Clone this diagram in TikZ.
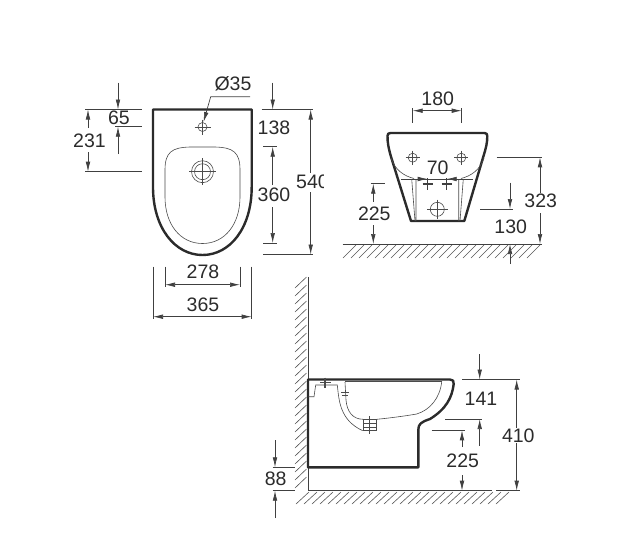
\documentclass[tikz,border=0pt]{standalone}
\usepackage{fontspec}
\setmainfont{Liberation Sans}
\usepackage{xcolor}
\usetikzlibrary{arrows.meta,calc}
\definecolor{inkdark}{HTML}{2B2B2B}

\begin{document}
\begin{tikzpicture}[x=1pt,y=-1pt,
    outline/.style={line width=2.4pt,inkdark,line join=round},
    thin part/.style={line width=0.6pt,inkdark!85},
    dim line/.style={line width=0.7pt,inkdark!90},
    dim arrow/.style={dim line,-{Latex[length=10pt,width=4.6pt]}},
    dim both/.style={dim line,{Latex[length=10pt,width=4.6pt]}-{Latex[length=10pt,width=4.6pt]}},
    dim label/.style={text=inkdark,font=\fontsize{19.5}{19.5}\selectfont,inner sep=0pt},
    hatch line/.style={line width=0.6pt,inkdark!80}]
  \useasboundingbox (0,0) rectangle (627,539);

  % top view
  \draw[outline] (153,187) -- (153,109.5) -- (251.7,109.5) -- (251.7,187)
    .. controls (251.7,228) and (230,255) .. (202.5,255)
    .. controls (175,255) and (153,228) .. (153,187);
  \draw[thin part] (165,170) .. controls (165,152) and (172,147.5) .. (190,147)
    -- (215,147) .. controls (233,147.5) and (240,152) .. (240,170)
    -- (240,197) .. controls (240,224) and (225,243.5) .. (202.5,243.5)
    .. controls (180,243.5) and (165,224) .. (165,197) -- cycle;
  \draw[thin part] (202.5,171.7) circle[radius=11pt] circle[radius=8pt];
  \draw[thin part] (189,171.7) -- (216,171.7) (202.5,158) -- (202.5,185);
  \draw[thin part] (202.5,127) circle[radius=4.5pt];
  \draw[thin part] (194.5,127) -- (210.5,127) (202.5,119.5) -- (202.5,134.5);

  % top view, dimensions on the left
  \draw[dim line] (85,109.5) -- (141.7,109.5);
  \draw[dim line] (115,126.7) -- (141.7,126.7);
  \draw[dim line] (85,171.7) -- (141.7,171.7);
  \draw[dim arrow] (118,82.7) -- (118,109.5);
  \draw[dim arrow] (118,154) -- (118,126.7);
  \draw[dim arrow] (88,128) -- (88,109.5);
  \draw[dim arrow] (88,152) -- (88,171.7);
  \node[dim label] (d65) at (119,118) {65};
  \node[dim label] (d231) at (89.5,140.7) {231};

  % hole leader
  \node[dim label] (dhole) at (233,84) {Ø35};
  \draw[dim arrow] (250,96.7) -- (210.7,96.7) -- (203.5,122);

  % top view, dimensions on the right
  \draw[dim line] (261.7,109.5) -- (313,109.5);
  \draw[dim line] (263,146.7) -- (276.7,146.7);
  \draw[dim line] (263,243) -- (276.7,243);
  \draw[dim line] (263,254.5) -- (313,254.5);
  \draw[dim arrow] (272.7,82.7) -- (272.7,109.5);
  \draw[dim arrow] (272.7,185) -- (272.7,146.7);
  \draw[dim arrow] (272.7,207) -- (272.7,243);
  \draw[dim arrow] (310.7,173) -- (310.7,109.5);
  \draw[dim arrow] (310.7,192) -- (310.7,254.5);
  \node[dim label] (d138) at (274,128) {138};
  \node[dim label] (d360) at (274,195) {360};
  \begin{scope}
    \clip (285,165) rectangle (323.5,200);
    \node[dim label,anchor=west] (d540) at (296,181.7) {540};
  \end{scope}

  % top view, dimensions below
  \draw[dim line] (165,266.7) -- (165,287) (240,266.7) -- (240,287);
  \draw[dim line] (153,266.7) -- (153,319) (251.7,266.7) -- (251.7,319);
  \draw[dim both] (165,284.7) -- (240,284.7);
  \draw[dim both] (153,316.7) -- (251.7,316.7);
  \node[dim label] (d278) at (203,272) {278};
  \node[dim label] (d365) at (203,305) {365};

  % front view
  \draw[outline] (411,221) -- (391,156.7) .. controls (388.5,148) and (387.5,143) .. (387.5,136)
    .. controls (387.5,134) and (388.5,133) .. (390.5,133) -- (484.5,133)
    .. controls (486.5,133) and (487.3,134) .. (487.3,136)
    .. controls (487.3,143) and (486,148) .. (483.3,156.7) -- (464.3,221) -- cycle;
  \draw[thin part] (391,158) .. controls (395,170) and (404,176) .. (414,178.5);
  \draw[thin part] (484,158) .. controls (480,170) and (471,176) .. (461,178.5);
  \draw[dim line] (401,179) -- (473.3,179);
  \draw[thin part] (411.7,179) -- (415,221) (416,179) -- (416,221);
  \draw[thin part] (463.3,179) -- (460,221) (458.7,179) -- (458.7,221);
  \foreach \hx in {412.7,461.3} {
    \draw[thin part] (\hx,157.7) circle[radius=4.5pt];
    \draw[thin part] (\hx-7,157.7) -- (\hx+7,157.7) (\hx,150.5) -- (\hx,165);
  }
  \foreach \hx in {427.7,446.7}
    \draw[dim line,line width=1.2pt] (\hx-5,184) -- (\hx+5,184) (\hx,178) -- (\hx,190);
  \draw[thin part] (437.3,209.3) circle[radius=7pt];
  \draw[thin part] (427,209.3) -- (447.5,209.3) (437.3,199.5) -- (437.3,219);

  % front view, dimensions
  \draw[dim line] (412.7,108) -- (412.7,122.7) (461.7,108) -- (461.7,122.7);
  \draw[dim both] (412.7,110.7) -- (461.7,110.7);
  \node[dim label] (d180) at (437.7,98.3) {180};
  \draw[dim arrow] (413,179) -- (427.7,179);
  \draw[dim arrow] (463,179) -- (446.7,179);
  \node[dim label] (d70) at (437.7,167.3) {70};
  \draw[dim line] (370.7,183.7) -- (385,183.7);
  \draw[dim arrow] (373.3,201.7) -- (373.3,183.7);
  \draw[dim arrow] (373.3,225) -- (373.3,244);
  \node[dim label] (d225a) at (374.3,213.3) {225};
  \draw[dim line] (480,209) -- (512.7,209);
  \draw[dim arrow] (510,182.7) -- (510,209);
  \draw[dim arrow] (510,264) -- (510,244);
  \node[dim label] (d130) at (510.7,226.7) {130};
  \draw[dim line] (496.7,157.3) -- (542.3,157.3);
  \draw[dim arrow] (540,193) -- (540,157.3);
  \draw[dim arrow] (540,213) -- (540,244);
  \node[dim label] (d323) at (540.7,200.7) {323};

  % front view, floor
  \draw[dim line] (342.7,244) -- (542.3,244);
  \foreach \hx in {343,351,...,527}
    \draw[hatch line] (\hx,258) -- (\hx+13,245);

  % side view, wall and floor
  \draw[dim line] (308,277.3) -- (308,490.7) -- (491.7,490.7);
  \draw[dim line] (496,490.7) -- (520,490.7);
  \foreach \hy in {288,296,...,488}
    \draw[hatch line] (295,\hy) -- (306.5,\hy-11);
  \foreach \hx in {296,304,...,496}
    \draw[hatch line] (\hx,504) -- (\hx+13,492);

  % side view
  \draw[outline] (308,379.5) -- (450,379.5)
    .. controls (453,379.5) and (454,381) .. (453.7,384)
    .. controls (452,398) and (446,409) .. (430,419)
    .. controls (421,422) and (418.3,424) .. (418.3,430)
    -- (418.3,467.3) -- (308,467.3) -- cycle;
  \draw[thin part] (345,381.3) -- (441.7,381.3);
  \draw[thin part] (441.7,381.7) .. controls (440,398) and (430,410) .. (416.7,414)
    .. controls (405,416) and (390,418) .. (376.7,419.3);
  \draw[thin part] (345,382) -- (346,400) .. controls (347,412) and (353,419.3) .. (363.3,419.3);
  \draw[thin part] (308.3,396.7) -- (314,396.7) -- (315.7,385) -- (337.3,385)
    .. controls (339,400) and (339.5,420) .. (362.7,430.7);
  \draw[thin part] (363.3,419.3) rectangle (376.7,430.7);
  \draw[thin part] (363.3,423) -- (376.7,423) (363.3,427) -- (376.7,427);
  \draw[thin part] (369.3,416) -- (369.3,434);
  \draw[thin part,line width=1.1pt] (325,377.5) -- (325,387.5) (320,382.7) -- (331,382.7);
  \draw[thin part] (341,392) -- (349,392) (342,395) -- (348,395);

  % side view, dimensions
  \draw[dim line] (462.3,379.5) -- (520,379.5);
  \draw[dim line] (445,419) -- (482.3,419);
  \draw[dim line] (431.7,430.3) -- (465,430.3);
  \draw[dim arrow] (479.7,354) -- (479.7,379.5);
  \draw[dim arrow] (479.7,445.7) -- (479.7,419);
  \node[dim label] (d141) at (481,399) {141};
  \draw[dim arrow] (462,447) -- (462,430.3);
  \draw[dim arrow] (462,475) -- (462,490.7);
  \node[dim label] (d225b) at (462.7,461) {225};
  \draw[dim arrow] (516.7,428) -- (516.7,379.5);
  \draw[dim arrow] (516.7,443) -- (516.7,490.7);
  \node[dim label] (d410) at (518.3,435.7) {410};
  \draw[dim line] (272.7,467.3) -- (295,467.3);
  \draw[dim line] (272.7,490.7) -- (295,490.7);
  \draw[dim arrow] (275,440) -- (275,467.3);
  \draw[dim arrow] (275,518) -- (275,490.7);
  \node[dim label] (d88) at (275.7,479) {88};
\end{tikzpicture}
\end{document}
